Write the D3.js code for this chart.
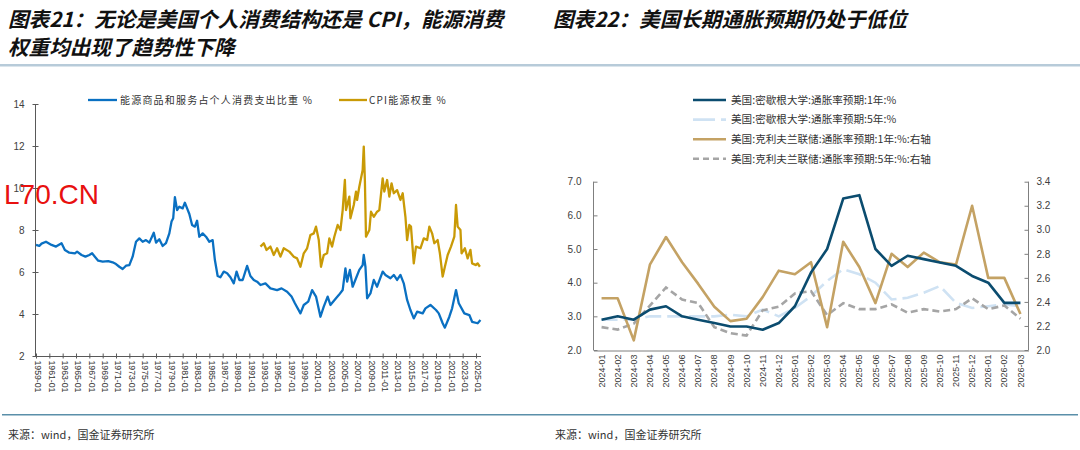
<!DOCTYPE html>
<html><head><meta charset="utf-8">
<script src="https://cdn.jsdelivr.net/npm/d3@7"></script>
<style>body{margin:0;background:#fff}svg{display:block}</style>
</head><body>
<svg id="c" width="1080" height="450"></svg>
<script>
// ---------------- Left chart data ----------------
const blueDates = ["1959-01","1959-07","1959-11","1960-07","1961-05","1962-01","1962-11","1963-05","1964-01","1964-11","1965-03","1965-11","1966-06","1967-01","1967-06","1967-11","1968-05","1969-01","1969-11","1970-07","1971-01","1971-07","1972-01","1972-07","1973-01","1973-07","1974-01","1974-07","1975-01","1975-07","1976-01","1976-09","1977-01","1977-07","1978-01","1978-07","1979-01","1979-05","1979-08","1979-11","1980-03","1980-07","1981-01","1981-05","1981-09","1982-01","1982-06","1982-11","1983-03","1983-07","1984-01","1984-07","1985-01","1985-07","1985-11","1986-04","1986-09","1987-03","1987-09","1988-03","1988-09","1989-02","1989-07","1990-01","1990-09","1991-03","1991-09","1992-03","1992-09","1993-06","1994-03","1995-03","1995-11","1996-09","1997-05","1997-11","1998-09","1999-03","1999-11","2000-06","2001-01","2001-09","2002-03","2002-10","2003-03","2004-01","2004-06","2005-01","2005-06","2005-09","2006-02","2006-07","2007-01","2007-07","2008-01","2008-03","2008-06","2008-09","2009-03","2009-09","2010-03","2011-01","2011-06","2012-03","2012-09","2013-03","2013-09","2014-03","2014-09","2015-03","2015-09","2016-03","2017-01","2017-06","2018-03","2019-01","2019-06","2020-01","2020-05","2021-01","2021-06","2022-01","2022-06","2023-04","2024-01","2024-06","2025-04","2025-09"];
const blueValues = [7.29,7.24,7.35,7.44,7.29,7.21,7.37,7.05,6.92,6.89,6.97,6.81,6.73,6.81,6.89,6.73,6.54,6.49,6.52,6.46,6.38,6.25,6.14,6.30,6.33,6.73,7.44,7.60,7.44,7.52,7.40,7.87,7.40,7.56,7.24,7.37,7.84,8.40,8.56,9.56,8.95,9.11,9.03,9.30,9.03,8.76,8.24,8.16,8.44,7.68,7.84,7.68,7.44,7.52,6.57,5.81,5.75,6.02,5.94,5.75,5.46,6.02,5.62,5.62,6.29,5.81,5.62,5.54,5.38,5.46,5.22,5.14,5.22,5.06,4.83,4.51,4.03,4.43,4.59,5.14,4.83,3.87,4.35,4.83,4.43,4.75,4.90,5.14,6.17,5.54,6.10,5.30,5.70,6.10,6.33,6.81,6.25,4.75,4.98,5.62,5.30,6.02,5.86,5.70,5.86,5.62,5.86,5.46,4.67,4.19,3.79,4.11,4.03,4.27,4.43,4.19,4.03,3.56,3.35,3.87,4.27,5.14,4.51,4.03,3.95,3.63,3.56,3.71];
const goldDates = ["1992-09","1993-03","1993-08","1994-03","1994-09","1995-03","1995-09","1996-03","1997-01","1997-09","1998-03","1998-09","1999-03","1999-09","2000-03","2000-09","2001-01","2001-06","2001-10","2002-03","2002-09","2003-01","2003-06","2003-10","2004-04","2004-09","2005-01","2005-05","2005-07","2006-01","2006-03","2006-09","2007-01","2007-03","2007-07","2008-01","2008-03","2008-05","2008-07","2009-01","2009-04","2009-09","2010-03","2010-07","2011-01","2011-04","2011-09","2012-01","2012-05","2012-09","2013-03","2013-09","2014-01","2014-06","2014-09","2015-01","2015-04","2015-09","2016-01","2016-09","2017-03","2017-09","2018-01","2018-06","2018-10","2019-04","2019-08","2020-01","2020-05","2020-10","2021-04","2021-10","2022-01","2022-04","2022-09","2022-11","2023-05","2023-10","2024-03","2024-06","2025-01","2025-04","2025-08"];
const goldValues = [7.21,7.37,7.05,7.21,6.81,7.13,6.73,7.13,6.97,6.73,6.65,6.25,6.89,7.13,7.76,7.84,8.16,7.52,6.25,6.81,6.89,7.60,7.21,7.68,8.24,8.00,8.95,10.38,8.95,9.59,8.56,9.19,9.83,9.43,10.06,10.86,11.97,10.38,7.68,8.00,8.87,8.63,8.87,8.95,10.46,9.83,10.38,9.59,10.22,9.75,9.90,9.43,9.75,8.63,7.52,8.24,8.16,6.41,7.21,7.13,7.60,7.52,8.16,7.84,7.37,7.52,6.89,5.78,6.25,6.81,7.21,7.68,9.19,8.16,8.00,6.89,7.13,6.65,7.05,6.41,6.33,6.41,6.25];
const leftYTicks = [2,4,6,8,10,12,14];
const leftXTickYears = d3.range(1959, 2026, 2);
const leftLegend = ["能源商品和服务占个人消费支出比重 %", "CPI能源权重 %"];

// ---------------- Right chart data ----------------
const months = ["2024-01","2024-02","2024-03","2024-04","2024-05","2024-06","2024-07","2024-08","2024-09","2024-10","2024-11","2024-12","2025-01","2025-02","2025-03","2025-04","2025-05","2025-06","2025-07","2025-08","2025-09","2025-10","2025-11","2025-12","2026-01","2026-02","2026-03"];
const umich1y = [2.9,3.0,2.9,3.2,3.3,3.0,2.9,2.8,2.7,2.7,2.6,2.8,3.3,4.3,5.0,6.5,6.6,5.0,4.5,4.8,4.7,4.6,4.5,4.2,4.0,3.4,3.4];
const umich5y = [2.9,2.9,2.9,3.0,3.0,3.0,3.0,3.0,3.05,3.0,3.2,3.0,3.25,3.6,4.05,4.4,4.25,4.0,3.5,3.55,3.7,3.9,3.4,3.25,3.3,3.35,3.3];
const clev1y = [2.43,2.43,2.08,2.71,2.94,2.73,2.55,2.36,2.24,2.26,2.44,2.66,2.63,2.73,2.19,2.90,2.69,2.39,2.80,2.69,2.81,2.73,2.71,3.20,2.60,2.60,2.30];
const clev5y = [2.19,2.17,2.22,2.37,2.52,2.42,2.39,2.19,2.14,2.12,2.33,2.36,2.47,2.49,2.29,2.39,2.34,2.34,2.38,2.31,2.34,2.32,2.34,2.43,2.34,2.37,2.26];
const rightLeftTicks = [2.0,3.0,4.0,5.0,6.0,7.0];
const rightRightTicks = [2.0,2.2,2.4,2.6,2.8,3.0,3.2,3.4];
const rightLegend = ["美国:密歇根大学:通胀率预期:1年:%","美国:密歇根大学:通胀率预期:5年:%","美国:克利夫兰联储:通胀率预期:1年:%:右轴","美国:克利夫兰联储:通胀率预期:5年:%:右轴"];

const titles = ["图表21：无论是美国个人消费结构还是 CPI，能源消费", "权重均出现了趋势性下降", "图表22：美国长期通胀预期仍处于低位"];
const sourceText = "来源：wind，国金证券研究所";

// ---------------- Drawing ----------------
const svg = d3.select("#c");
const CJK = "'Noto Sans CJK SC','Noto Sans',sans-serif";
const SANS = "'Liberation Sans',Arial,sans-serif";
const parse = d3.timeParse("%Y-%m");

// titles
const tG = svg.append("g").attr("font-family", CJK).attr("font-weight", "bold").attr("font-style", "italic").attr("font-size", 20.6).attr("fill", "#111");
tG.append("text").attr("x", 8).attr("y", 27).text(titles[0]);
tG.append("text").attr("x", 8).attr("y", 55).text(titles[1]);
tG.append("text").attr("x", 553).attr("y", 27).text(titles[2]);
svg.append("rect").attr("x", 0).attr("y", 64).attr("width", 1080).attr("height", 2.5).attr("fill", "#b7cbd9");
svg.append("rect").attr("x", 2).attr("y", 414).attr("width", 1076).attr("height", 1.5).attr("fill", "#5a8fa9");
const fG = svg.append("g").attr("font-family", CJK).attr("font-size", 11).attr("fill", "#333");
fG.append("text").attr("x", 8).attr("y", 439).text(sourceText);
fG.append("text").attr("x", 555).attr("y", 439).text(sourceText);

// ---- left chart
const xL = d3.scaleTime().domain([parse("1959-01"), parse("2025-10")]).range([36, 481]);
const yL = d3.scaleLinear().domain([2, 14]).range([356, 104]);
const axisColor = "#595959";
const lg = svg.append("g");
lg.append("line").attr("x1", 35.5).attr("x2", 35.5).attr("y1", yL(14)).attr("y2", yL(2)).attr("stroke", axisColor);
lg.append("line").attr("x1", 35).attr("x2", 481).attr("y1", 356.5).attr("y2", 356.5).attr("stroke", axisColor);
const yAxL = d3.axisLeft(yL).tickValues(leftYTicks).tickSize(3).tickPadding(8);
const yAxG = lg.append("g").attr("transform", "translate(35.5,0)").call(yAxL);
yAxG.select(".domain").remove();
yAxG.selectAll("line").attr("stroke", axisColor).attr("x2", 3).attr("x1", -3);
yAxG.selectAll("text").attr("font-family", SANS).attr("font-size", 10).attr("fill", "#404040");
const xAxL = d3.axisBottom(xL).tickValues(leftXTickYears.map(y => parse(y + "-01"))).tickSize(3).tickFormat(d3.timeFormat("%Y-%m"));
const xAxG = lg.append("g").attr("transform", "translate(0,356.5)").call(xAxL);
xAxG.select(".domain").remove();
xAxG.selectAll("line").attr("stroke", axisColor).attr("y1", -3).attr("y2", 2);
xAxG.selectAll("text").attr("font-family", SANS).attr("font-size", 8.7).attr("fill", "#333")
  .attr("text-anchor", "start").attr("x", 4).attr("y", 0).attr("dy", "0.35em").attr("dx", 0)
  .attr("transform", "rotate(90) translate(0,-2)");

const lineL = d3.line().x(d => xL(d[0])).y(d => yL(d[1]));
const blueData = blueDates.map((d, i) => [parse(d), blueValues[i]]);
const goldData = goldDates.map((d, i) => [parse(d), goldValues[i]]);
lg.append("path").datum(blueData).attr("d", lineL).attr("fill", "none").attr("stroke", "#0a70c2").attr("stroke-width", 2.3).attr("stroke-linejoin", "round");
lg.append("path").datum(goldData).attr("d", lineL).attr("fill", "none").attr("stroke", "#c99a06").attr("stroke-width", 2.3).attr("stroke-linejoin", "round");

// left legend
const llg = svg.append("g").attr("font-family", CJK).attr("font-size", 10).attr("fill", "#333").attr("letter-spacing", 1.2);
llg.append("line").attr("x1", 88).attr("x2", 117).attr("y1", 100).attr("y2", 100).attr("stroke", "#0a70c2").attr("stroke-width", 2.3);
llg.append("text").attr("x", 120).attr("y", 103.5).text(leftLegend[0]);
llg.append("line").attr("x1", 339).attr("x2", 367).attr("y1", 100).attr("y2", 100).attr("stroke", "#c99a06").attr("stroke-width", 2.3);
llg.append("text").attr("x", 369).attr("y", 103.5).text(leftLegend[1]);

// watermark
svg.append("text").attr("x", 4).attr("y", 204).attr("font-family", SANS).attr("font-size", 28).attr("fill", "#e8100f").text("L70.CN");

// ---- right chart
const xR = d3.scaleBand().domain(months).range([593.5, 1028.5]);
const cx = m => xR(m) + xR.bandwidth() / 2;
const yR1 = d3.scaleLinear().domain([2, 7]).range([350, 181.7]);
const yR2 = d3.scaleLinear().domain([2, 3.4]).range([350, 181.7]);
const rg = svg.append("g");
const rAxis = "#7f7f7f";
const ax1 = rg.append("g").attr("transform", "translate(593.5,0)").call(d3.axisRight(yR1).tickValues(rightLeftTicks).tickSize(4).tickFormat(d3.format(".1f")));
ax1.select(".domain").attr("stroke", rAxis).attr("d", `M0,${yR1(7)}V${yR1(2)}`);
ax1.selectAll("line").attr("stroke", rAxis);
ax1.selectAll("text").attr("x", -12).attr("text-anchor", "end").attr("font-family", SANS).attr("font-size", 10).attr("fill", "#404040");
const ax2 = rg.append("g").attr("transform", "translate(1028.5,0)").call(d3.axisLeft(yR2).tickValues(rightRightTicks).tickSize(4).tickFormat(d3.format(".1f")));
ax2.select(".domain").attr("stroke", rAxis).attr("d", `M0,${yR2(3.4)}V${yR2(2)}`);
ax2.selectAll("line").attr("stroke", rAxis);
ax2.selectAll("text").attr("x", 8).attr("text-anchor", "start").attr("font-family", SANS).attr("font-size", 10).attr("fill", "#404040");
const axB = rg.append("g").attr("transform", "translate(0,350.5)").call(d3.axisBottom(xR).tickSize(0));
axB.select(".domain").attr("stroke", rAxis);
axB.selectAll("text").attr("font-family", SANS).attr("font-size", 9).attr("fill", "#404040")
  .attr("transform", "rotate(-90)").attr("text-anchor", "end").attr("x", -4).attr("y", 0).attr("dy", "0.35em");

const mkLine = (vals, y) => d3.line().x((d, i) => cx(months[i])).y(d => y(d))(vals);
rg.append("path").attr("d", mkLine(umich5y, yR1)).attr("fill", "none").attr("stroke", "#cfe2f3").attr("stroke-width", 2.6).attr("stroke-dasharray", "16,6");
rg.append("path").attr("d", mkLine(clev5y, yR2)).attr("fill", "none").attr("stroke", "#a5a5a5").attr("stroke-width", 2.6).attr("stroke-dasharray", "7,4");
rg.append("path").attr("d", mkLine(clev1y, yR2)).attr("fill", "none").attr("stroke", "#c4a264").attr("stroke-width", 2.6).attr("stroke-linejoin", "round");
rg.append("path").attr("d", mkLine(umich1y, yR1)).attr("fill", "none").attr("stroke", "#0b4c6f").attr("stroke-width", 2.6).attr("stroke-linejoin", "round");

// right legend
const legStyles = [
  {c: "#0b4c6f", d: null}, {c: "#cfe2f3", d: "22,6"}, {c: "#c4a264", d: null}, {c: "#a5a5a5", d: "6,4"}
];
const rlg = svg.append("g").attr("font-family", CJK).attr("font-size", 10.6).attr("fill", "#333");
rightLegend.forEach((t, i) => {
  const y = 100 + i * 19.6;
  rlg.append("line").attr("x1", 693).attr("x2", 726).attr("y1", y).attr("y2", y).attr("stroke", legStyles[i].c).attr("stroke-width", 2.6).attr("stroke-dasharray", legStyles[i].d);
  rlg.append("text").attr("x", 731).attr("y", y + 3.7).text(t);
});
</script>
</body></html>
